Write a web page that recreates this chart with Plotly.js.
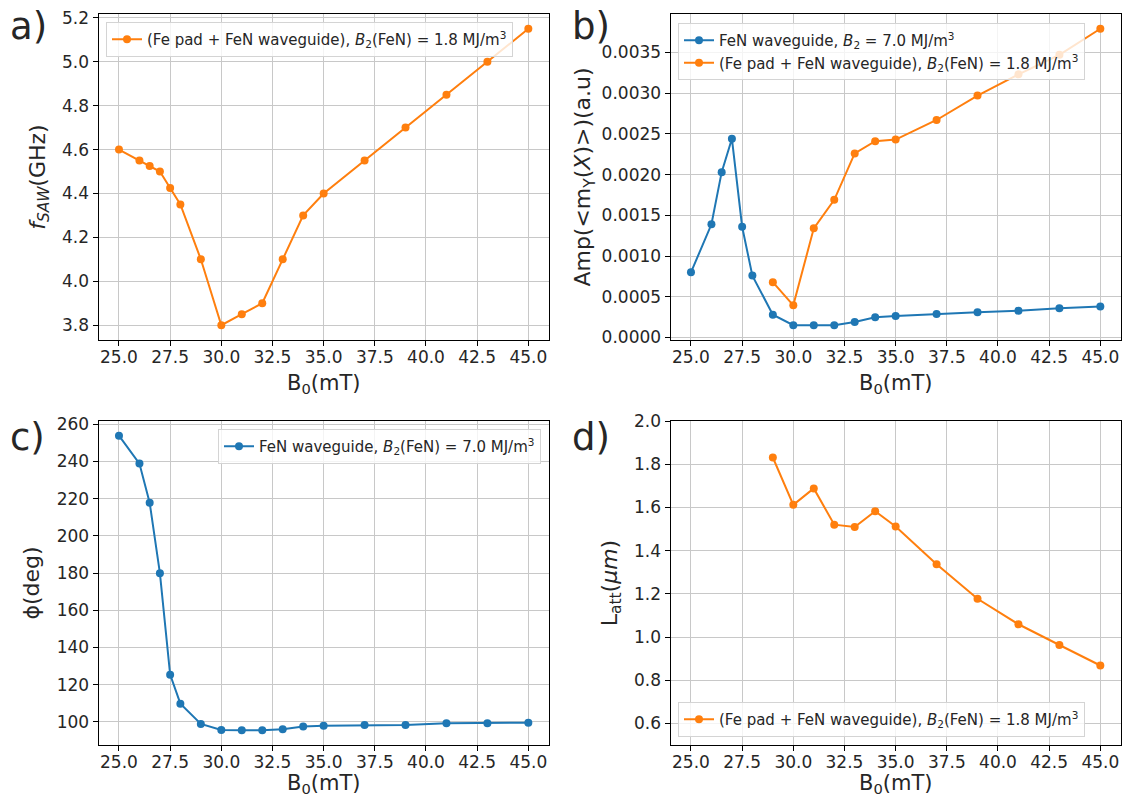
<!DOCTYPE html>
<html>
<head>
<meta charset="utf-8">
<script src="https://cdn.plot.ly/plotly-3.0.1.min.js"></script>
<style>html,body{margin:0;padding:0;background:#fff;}#chart{width:1124px;height:799px;}</style>
</head>
<body>
<div id="chart"></div>
<script>
// ---- data ----
const B_all = [25, 26, 26.5, 27, 27.5, 28, 29, 30, 31, 32, 33, 34, 35, 37, 39, 41, 43, 45];
const B_pad = [29, 30, 31, 32, 33, 34, 35, 37, 39, 41, 43, 45];
const fSAW_pad = [4.6, 4.55, 4.525, 4.5, 4.425, 4.35, 4.1, 3.8, 3.85, 3.9, 4.1, 4.3, 4.4, 4.55, 4.7, 4.85, 5.0, 5.15];
const amp_fen = [0.00080, 0.00139, 0.00203, 0.00244, 0.00136, 0.00076, 0.00028, 0.000152, 0.000152, 0.000152, 0.00019, 0.00025, 0.000265, 0.00029, 0.00031, 0.00033, 0.00036, 0.00038];
const amp_pad = [0.00068, 0.000395, 0.00134, 0.00169, 0.00226, 0.00241, 0.00243, 0.00267, 0.00297, 0.00323, 0.00347, 0.00379];
const phi_fen = [253.8, 238.8, 217.8, 179.9, 125.4, 109.8, 98.9, 95.7, 95.5, 95.5, 96.1, 97.5, 98.0, 98.4, 98.4, 99.3, 99.3, 99.6];
const latt_pad = [1.831, 1.612, 1.688, 1.520, 1.509, 1.582, 1.512, 1.337, 1.177, 1.059, 0.963, 0.868];

const nameFeN_b = "FeN waveguide, <i>B</i><sub>2</sub> = 7.0 MJ/m<sup>3</sup>";
const nameFeN_c = "FeN waveguide, <i>B</i><sub>2</sub>(FeN) = 7.0 MJ/m<sup>3</sup>";
const namePad = "(Fe pad + FeN waveguide), <i>B</i><sub>2</sub>(FeN) = 1.8 MJ/m<sup>3</sup>";
const xTitle = "B<sub>0</sub>(mT)";

// ---- styling / layout ----
const W = 1124, H = 799;
const BLUE = '#1f77b4', ORANGE = '#ff7f0e';
const FONT = 'DejaVu Sans';
const TXT = '#262626';
const px = v => v / W;
const py = v => (H - v) / H;

function tr(x, y, color, xa, ya, leg, name) {
  return {x: x, y: y, type: 'scatter', mode: 'lines+markers', name: name,
    xaxis: xa, yaxis: ya, legend: leg,
    line: {color: color, width: 2}, marker: {color: color, size: 8}};
}

const data = [
  tr(B_all, fSAW_pad, ORANGE, 'x', 'y', 'legend', namePad),
  tr(B_all, amp_fen, BLUE, 'x2', 'y2', 'legend2', nameFeN_b),
  tr(B_pad, amp_pad, ORANGE, 'x2', 'y2', 'legend2', namePad),
  tr(B_all, phi_fen, BLUE, 'x3', 'y3', 'legend3', nameFeN_c),
  tr(B_pad, latt_pad, ORANGE, 'x4', 'y4', 'legend4', namePad)
];

function xax(dom, anchor) {
  return {domain: dom, anchor: anchor, range: [24, 46], tick0: 25, dtick: 2.5, tickformat: '.1f',
    showline: true, mirror: true, linecolor: '#000', linewidth: 1,
    ticks: 'outside', ticklen: 5, tickcolor: '#000', tickwidth: 1,
    showgrid: true, gridcolor: '#c8c8c8', gridwidth: 1, zeroline: false,
    tickfont: {family: FONT, size: 17, color: TXT}, ticklabelstandoff: -3,
    automargin: false};
}
function yax(dom, anchor, range, dtick, fmt, title, standoff) {
  return {domain: dom, anchor: anchor, range: range, tick0: 0, dtick: dtick, tickformat: fmt,
    showline: true, mirror: true, linecolor: '#000', linewidth: 1,
    ticks: 'outside', ticklen: 5, tickcolor: '#000', tickwidth: 1,
    showgrid: true, gridcolor: '#c8c8c8', gridwidth: 1, zeroline: false,
    tickfont: {family: FONT, size: 17, color: TXT},
    title: {text: title, font: {family: FONT, size: 22, color: TXT}, standoff: standoff},
    automargin: false};
}

const xL = [px(98.5), px(548.8)], xR = [px(670.5), px(1120.8)];
const yT = [py(340), py(14)], yB = [py(745), py(421)];

function leg(x, y, xanchor, yanchor) {
  return {x: x, y: y, xanchor: xanchor, yanchor: yanchor, xref: 'paper', yref: 'paper',
    bgcolor: 'rgba(255,255,255,0.8)', bordercolor: '#d4d4d4', borderwidth: 1,
    font: {family: FONT, size: 15, color: TXT}, itemwidth: 30};
}

function lab(t, x, y) {
  return {text: t, x: px(x), y: py(y), xref: 'paper', yref: 'paper', xanchor: 'left', yanchor: 'middle',
    showarrow: false, font: {family: FONT, size: 37, color: TXT}};
}
// x-axis titles placed under each panel (centred on the panel)
function xtitle(dom, y, yanchor) {
  return {text: xTitle, x: (dom[0] + dom[1]) / 2, y: y, xref: 'paper', yref: 'paper',
    xanchor: 'center', yanchor: yanchor, showarrow: false, borderpad: 0,
    font: {family: FONT, size: 21, color: TXT}};
}

const layout = {
  width: W, height: H, margin: {l: 0, r: 0, t: 0, b: 0},
  paper_bgcolor: '#fff', plot_bgcolor: '#fff',
  font: {family: FONT, color: TXT},
  xaxis: xax(xL, 'y'),
  yaxis: yax(yT, 'x', [3.7325, 5.2175], 0.2, '.1f', "<i>f</i><sub><i>SAW</i></sub>(GHz)", 10),
  xaxis2: xax(xR, 'y2'),
  yaxis2: yax(yT, 'x2', [-0.0000302, 0.0039709], 0.0005, '.4f', "Amp(&lt;m<sub>Y</sub>(<i>X</i>)&gt;)(a.u)", 4),
  xaxis3: xax(xL, 'y3'),
  yaxis3: yax(yB, 'x3', [87.6, 261.7], 20, 'd', "ϕ(deg)", 10),
  xaxis4: xax(xR, 'y4'),
  yaxis4: yax(yB, 'x4', [0.5, 2.0], 0.2, '.1f', "L<sub>att</sub>(<i>μm</i>)", 10),
  legend: leg(px(106), py(22), 'left', 'top'),
  legend2: leg(px(678), py(23), 'left', 'top'),
  legend3: leg(px(541), py(429), 'right', 'top'),
  legend4: leg(px(678), py(737), 'left', 'bottom'),
  showlegend: true,
  annotations: [lab('a)', 8, 27), lab('b)', 570, 27), lab('c)', 8, 438), lab('d)', 570, 438),
    xtitle(xL, py(384), 'middle'), xtitle(xR, py(384), 'middle'),
    xtitle(xL, 0.001, 'bottom'), xtitle(xR, 0.001, 'bottom')]
};

Plotly.newPlot('chart', data, layout, {displayModeBar: false, staticPlot: true});
</script>
</body>
</html>
